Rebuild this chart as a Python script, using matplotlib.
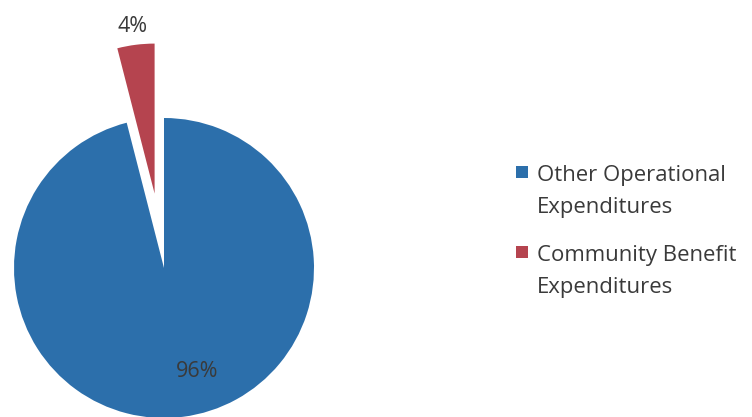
import matplotlib
matplotlib.use("Agg")
import matplotlib.pyplot as plt
from matplotlib.patches import Rectangle

categories = ["Other Operational\nExpenditures", "Community Benefit\nExpenditures"]
shares = [96, 4]
colors = ["#2c6fab", "#b5444f"]
explode = [0, 0.5]

plt.rcParams["font.family"] = ["Open Sans", "DejaVu Sans"]
text_color = "#3a3a3a"

W, H = 752, 417
fig = plt.figure(figsize=(W / 100, H / 100), dpi=100)
cx, cy, r = 164, 268, 150
ax = fig.add_axes([(cx - r) / W, (H - cy - r) / H, 2 * r / W, 2 * r / H])

wedges, texts, autotexts = ax.pie(
    shares, colors=colors, explode=explode, startangle=90, counterclock=False,
    autopct=lambda p: f"{p:.0f}%", pctdistance=0.7,
    textprops=dict(color=text_color, fontsize=15.5),
)
for w in wedges:
    w.set_clip_on(False)
    w.set_linewidth(0)
for t in autotexts:
    t.set_clip_on(False)

# label positions: large slice label low in the wedge, small slice label above its tip
autotexts[0].set_position((0.22, -0.69))
autotexts[1].set_position((-0.21, 1.61))

ax.set_xlim(-1, 1)
ax.set_ylim(-1, 1)
ax.set_aspect("equal")
ax.axis("off")

# legend: square swatch beside a two-line label
sq = 12
pitch = 33
for i, (label, color) in enumerate(zip(categories, colors)):
    base = 180 + i * 80  # baseline of the first label line, px from top
    fig.patches.append(Rectangle((516 / W, (H - base + 2) / H), sq / W, sq / H,
                                 transform=fig.transFigure, facecolor=color,
                                 edgecolor="none"))
    # va="baseline" anchors the last line, so place it one pitch lower
    fig.text(537 / W, (H - base - pitch) / H, label, fontsize=15.9,
             color=text_color, va="baseline", ha="left", linespacing=1.66)

fig.savefig("out.png", dpi=100, facecolor="white")
